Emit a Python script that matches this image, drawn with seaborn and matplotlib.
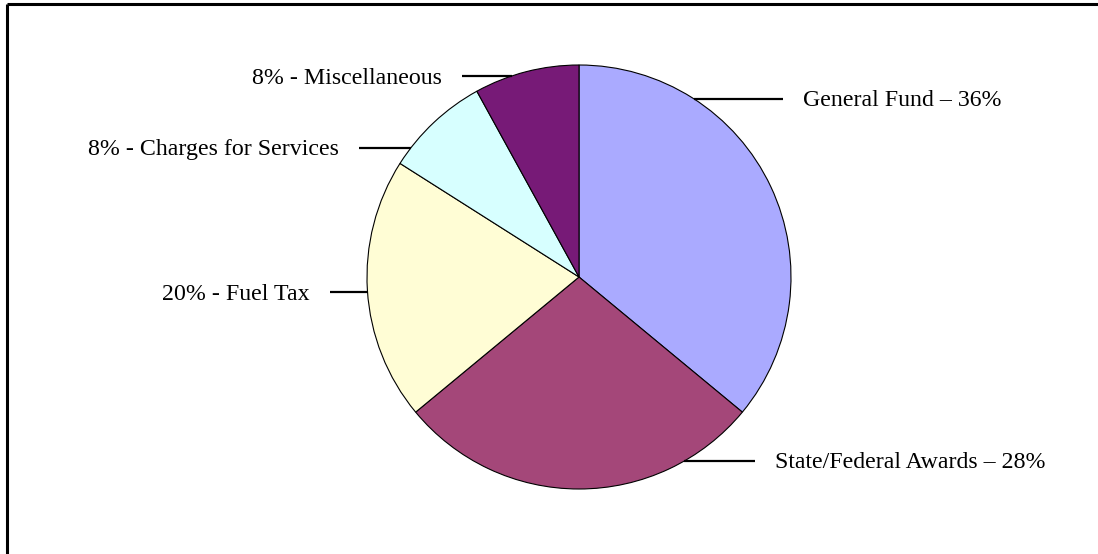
import numpy as np
import matplotlib
matplotlib.use("Agg")
import matplotlib.pyplot as plt
import seaborn as sns

# ---- data ----
names = ["General Fund", "State/Federal Awards", "Fuel Tax", "Charges for Services", "Miscellaneous"]
shares = [36, 28, 20, 8, 8]
colors = ["#AAAAFF", "#A44779", "#FFFDD5", "#D7FFFF", "#771A77"]
label_side = ["right", "right", "left", "left", "left"]

# ---- layout (pixels) ----
W, H = 1098, 554
cx, cy, R = 579, 277, 212
label_y = [99, 461, 292, 148, 76]
line_outer_x = [783, 755, 330, 359, 462]
gap = 20

sns.set_theme(style="white")
plt.rcParams["font.family"] = ["Liberation Serif", "DejaVu Serif"]

fig = plt.figure(figsize=(W / 100, H / 100), dpi=100)
fig.patch.set_facecolor("white")

# pie axes
axp = fig.add_axes([(cx - R) / W, (H - cy - R) / H, 2 * R / W, 2 * R / H])
axp.pie(shares, colors=colors, startangle=90, counterclock=False,
        wedgeprops=dict(edgecolor="black", linewidth=0.8), radius=1.0)
axp.set_xlim(-1, 1)
axp.set_ylim(-1, 1)
axp.set_axis_off()

# overlay axes in pixel coordinates
ax = fig.add_axes([0, 0, 1, 1], facecolor="none")
ax.set_xlim(0, W)
ax.set_ylim(H, 0)
ax.set_axis_off()

for name, v, side, y, xo in zip(names, shares, label_side, label_y, line_outer_x):
    dy = y - cy
    dx = np.sqrt(max(R * R - dy * dy, 0))
    if side == "right":
        xe = cx + dx
        txt = f"{name} \u2013 {v}%"
        ax.plot([xe, xo], [y, y], color="black", lw=1.6, solid_capstyle="butt")
        ax.text(xo + gap, y + 2, txt, ha="left", va="center", fontsize=17.2, color="black")
    else:
        xe = cx - dx
        txt = f"{v}% - {name}"
        ax.plot([xo, xe], [y, y], color="black", lw=1.6, solid_capstyle="butt")
        ax.text(xo - gap, y + 2, txt, ha="right", va="center", fontsize=17.2, color="black")

# frame border (top and left edges visible)
ax.plot([7, W], [4, 4], color="black", lw=2.2, solid_capstyle="butt")
ax.plot([7, 7], [4, H], color="black", lw=2.2, solid_capstyle="butt")

fig.savefig("out.png", dpi=100, facecolor="white")
